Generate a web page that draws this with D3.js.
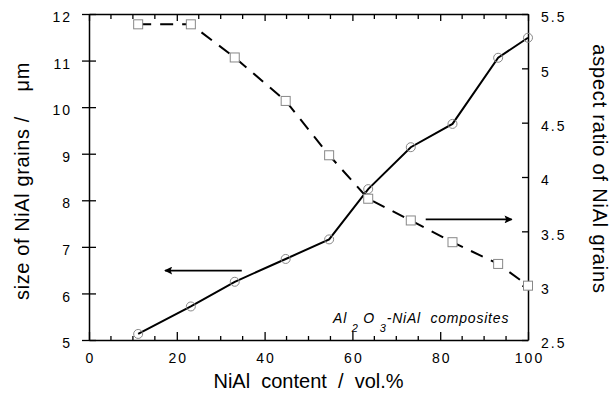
<html>
<head>
<meta charset="utf-8">
<script src="https://cdn.jsdelivr.net/npm/d3@7/dist/d3.min.js"></script>
<style>
    body { margin: 0; background: #fff; }
    svg { font-family: "Liberation Sans", Arial, sans-serif; }
    .tick text { font-size: 14px; letter-spacing: 2px; fill: #000; }
    .domain { stroke: #000; stroke-width: 1.5px; }
    .tick line { stroke: #000; stroke-width: 1.3px; }
    .title { font-size: 20px; white-space: pre; }
</style>
</head>
<body>
<div id="chart"></div>
<script>
    // NiAl content (vol.%)
    var content = [11.2, 23.2, 33.2, 44.8, 54.7, 63.6, 73.3, 82.8, 93.2, 100];
    // size of NiAl grains (um), left axis
    var grainSize = [5.13, 5.72, 6.25, 6.74, 7.16, 8.24, 9.14, 9.64, 11.06, 11.49];
    // aspect ratio of NiAl grains, right axis
    var aspectRatio = [5.405, 5.405, 5.10, 4.70, 4.20, 3.80, 3.60, 3.40, 3.20, 3.00];

    var xMajor = [0, 20, 40, 60, 80, 100];
    var leftTicks = [5, 6, 7, 8, 9, 10, 11, 12];
    var rightTicks = [2.5, 3, 3.5, 4, 4.5, 5, 5.5];

    var width = 612, height = 394;
    var margin = {left: 89, right: 84, top: 14, bottom: 54};

    var svg = d3.select("#chart").append("svg")
        .attr("width", width)
        .attr("height", height);

    var x = d3.scaleLinear().domain([0, 100]).range([margin.left, width - margin.right]);
    var yL = d3.scaleLinear().domain([5, 12]).range([height - margin.bottom, margin.top]);
    var yR = d3.scaleLinear().domain([2.5, 5.5]).range([height - margin.bottom, margin.top]);

    var xMinor = d3.range(0, 101, 5).filter(function(v) { return xMajor.indexOf(v) < 0; });

    /* ------- AXES -------*/
    var bottomAxis = svg.append("g")
        .attr("transform", "translate(0," + yL(5) + ")")
        .call(d3.axisBottom(x).tickValues(xMajor).tickSize(-8).tickPadding(10).tickSizeOuter(0));
    bottomAxis.selectAll(".tick text").attr("dy", "0.9em").attr("dx", "1px");

    bottomAxis.selectAll(".minor").data(xMinor).enter().append("line")
        .attr("x1", function(d) { return x(d); }).attr("x2", function(d) { return x(d); })
        .attr("y1", 0).attr("y2", -4)
        .attr("stroke", "#000").attr("stroke-width", 1.3);

    var topAxis = svg.append("g")
        .attr("transform", "translate(0," + yL(12) + ")")
        .call(d3.axisTop(x).tickValues(xMajor).tickSize(-7).tickSizeOuter(0).tickFormat(""));

    topAxis.selectAll(".minor").data(xMinor).enter().append("line")
        .attr("x1", function(d) { return x(d); }).attr("x2", function(d) { return x(d); })
        .attr("y1", 0).attr("y2", 5)
        .attr("stroke", "#000").attr("stroke-width", 1.3);

    var leftAxis = svg.append("g")
        .attr("transform", "translate(" + x(0) + ",0)")
        .call(d3.axisLeft(yL).tickValues(leftTicks).tickSize(7).tickPadding(10).tickSizeOuter(0)
            .tickFormat(d3.format("d")));
    leftAxis.selectAll(".tick line").attr("x1", 7);
    leftAxis.selectAll(".tick text").attr("dy", "0.55em");

    var rightAxis = svg.append("g")
        .attr("transform", "translate(" + x(100) + ",0)")
        .call(d3.axisRight(yR).tickValues(rightTicks).tickSize(-6).tickPadding(13).tickSizeOuter(0)
            .tickFormat(function(d) { return d % 1 === 0 ? d : d3.format(".1f")(d); }));
    rightAxis.selectAll(".tick text").attr("dy", "0.55em");

    /* ------- TITLES -------*/
    svg.append("text").attr("class", "title")
        .attr("text-anchor", "middle")
        .attr("letter-spacing", "0.6px")
        .attr("transform", "translate(29,181) rotate(-90)")
        .text("size of NiAl grains /    \u03bcm");

    svg.append("text").attr("class", "title")
        .attr("text-anchor", "middle")
        .attr("letter-spacing", "0.8px")
        .attr("transform", "translate(593,169) rotate(90)")
        .text("aspect ratio of NiAl grains");

    svg.append("text").attr("class", "title")
        .attr("text-anchor", "middle")
        .attr("x", (x(0) + x(100)) / 2).attr("y", 388)
        .text("NiAl  content  /  vol.%");

    /* ------- SERIES -------*/
    var sizeLine = d3.line()
        .x(function(d, i) { return x(content[i]); })
        .y(function(d) { return yL(d); });
    var ratioLine = d3.line()
        .x(function(d, i) { return x(content[i]); })
        .y(function(d) { return yR(d); });

    svg.append("path").datum(aspectRatio)
        .attr("d", ratioLine)
        .attr("fill", "none").attr("stroke", "#000").attr("stroke-width", 2)
        .attr("stroke-dasharray", "13,9");

    svg.append("path").datum(grainSize)
        .attr("d", sizeLine)
        .attr("fill", "none").attr("stroke", "#000").attr("stroke-width", 2);

    svg.selectAll(".circ").data(grainSize).enter().append("circle")
        .attr("cx", function(d, i) { return x(content[i]); })
        .attr("cy", function(d) { return yL(d); })
        .attr("r", 4.5)
        .attr("fill", "none").attr("stroke", "#888").attr("stroke-width", 1);

    svg.selectAll(".sq").data(aspectRatio).enter().append("rect")
        .attr("x", function(d, i) { return x(content[i]) - 4.5; })
        .attr("y", function(d) { return yR(d) - 4.5; })
        .attr("width", 9).attr("height", 9)
        .attr("fill", "#fff").attr("stroke", "#888").attr("stroke-width", 1);

    /* ------- ARROWS -------*/
    svg.append("defs").append("marker")
        .attr("id", "head")
        .attr("viewBox", "0 0 10 10")
        .attr("refX", 9).attr("refY", 5)
        .attr("markerWidth", 16).attr("markerHeight", 8)
        .attr("markerUnits", "userSpaceOnUse")
        .attr("orient", "auto")
        .append("path").attr("d", "M0,0 L10,5 L0,10 L2,5 Z").attr("fill", "#000");

    svg.append("line")
        .attr("x1", x(34.8)).attr("x2", x(17.3))
        .attr("y1", yL(6.49)).attr("y2", yL(6.49))
        .attr("stroke", "#000").attr("stroke-width", 1.8)
        .attr("marker-end", "url(#head)");

    svg.append("line")
        .attr("x1", x(76.7)).attr("x2", x(96.3))
        .attr("y1", yR(3.61)).attr("y2", yR(3.61))
        .attr("stroke", "#000").attr("stroke-width", 1.8)
        .attr("marker-end", "url(#head)");

    /* ------- LABEL -------*/
    var lab = svg.append("text")
        .attr("x", 333).attr("y", 323)
        .attr("font-size", 14).attr("font-style", "italic")
        .attr("letter-spacing", "0.8px")
        .style("white-space", "pre");
    lab.append("tspan").text("Al ");
    lab.append("tspan").attr("font-size", 11).attr("dy", 9).text("2");
    lab.append("tspan").attr("dy", -9).text(" O ");
    lab.append("tspan").attr("font-size", 11).attr("dy", 9).text("3");
    lab.append("tspan").attr("dy", -9).text("-NiAl  composites");
</script>
</body>
</html>
